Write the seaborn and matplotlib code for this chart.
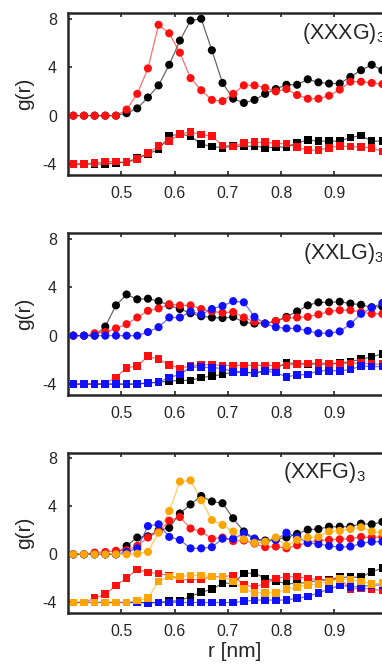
import matplotlib
matplotlib.use('Agg')
import matplotlib.pyplot as plt
import numpy as np
import seaborn as sns

# r grid (nm), one point every 0.02 nm
r = np.round(np.arange(0.41, 1.0, 0.02), 2)

# (XXXG)3
g1_black_c = [0, 0, 0, 0, 0, 0.2, 0.6, 1.5, 2.5, 4.2, 6.2, 7.85, 8.0, 5.4, 2.7,
              1.4, 1.05, 1.3, 1.8, 2.2, 2.55, 2.55, 3.0, 2.75, 2.65, 2.65, 3.2, 3.75, 4.2, 3.75]
g1_red_c = [0, 0, 0, 0, 0, 0.5, 1.8, 3.9, 7.5, 6.8, 5.2, 3.1, 2.1, 1.3, 1.2,
            1.8, 2.5, 2.5, 2.3, 2.0, 2.2, 1.7, 1.4, 1.4, 1.65, 2.15, 2.8, 2.8, 2.7, 2.6]
g1_black_s = [-4.0, -4.0, -4.0, -4.0, -3.9, -3.85, -3.5, -3.15, -2.8, -1.7, -1.5, -1.7, -2.35, -2.55, -2.65,
              -2.5, -2.55, -2.5, -2.65, -2.6, -2.6, -2.25, -2.0, -2.1, -2.1, -2.1, -1.8, -1.65, -2.1, -2.1]
g1_red_s = [-4.0, -4.0, -3.9, -3.8, -3.8, -3.85, -3.6, -3.1, -2.5, -2.1, -1.5, -1.35, -1.55, -1.7, -2.45,
            -2.55, -2.25, -2.2, -2.2, -2.3, -2.3, -2.6, -2.85, -2.85, -2.65, -2.5, -2.55, -2.6, -2.65, -2.95]

# (XXLG)3
g2_black_c = [0, 0, 0, 0.75, 2.5, 3.4, 3.0, 3.05, 2.85, 2.5, 2.2, 1.85, 1.6, 1.5, 1.45,
              1.55, 1.1, 1.0, 1.0, 1.2, 1.55, 2.0, 2.5, 2.75, 2.75, 2.8, 2.65, 2.55, 2.35, 2.4]
g2_red_c = [0, 0, 0.2, 0.3, 0.6, 0.95, 1.5, 2.05, 2.25, 2.6, 2.5, 2.5, 2.2, 2.0, 1.9,
            1.95, 1.5, 1.15, 1.0, 1.2, 1.45, 1.5, 1.55, 1.75, 2.0, 2.1, 2.1, 1.95, 1.8, 1.8]
g2_blue_c = [0, 0, 0, 0, 0, 0, 0, 0.3, 0.7, 1.5, 1.5, 2.0, 1.75, 2.2, 2.45,
             2.85, 2.75, 1.55, 1.0, 0.7, 0.6, 0.6, 0.4, 0.2, 0.2, 0.35, 0.95, 1.8, 2.3, 2.7]
g2_black_s = [-4.0, -4.0, -4.0, -4.0, -4.0, -4.0, -4.0, -3.9, -3.85, -3.75, -3.7, -3.7, -3.45, -3.35, -3.2,
              -3.0, -3.0, -3.1, -2.9, -2.7, -2.25, -2.3, -2.35, -2.35, -2.35, -2.25, -2.15, -1.95, -1.75, -1.5]
g2_red_s = [-4.0, -4.0, -4.0, -3.95, -3.45, -2.65, -2.5, -1.7, -1.95, -2.4, -2.7, -2.5, -2.4, -2.4, -2.45,
            -2.45, -2.45, -2.45, -2.45, -2.45, -2.45, -2.35, -2.3, -2.25, -2.3, -2.3, -2.3, -2.25, -2.35, -2.35]
g2_blue_s = [-4.0, -4.0, -4.0, -4.0, -4.0, -4.0, -4.0, -3.9, -3.85, -3.45, -3.2, -2.6, -2.6, -2.65, -2.7,
             -3.0, -3.0, -3.1, -2.9, -3.05, -3.4, -3.25, -3.2, -2.9, -2.9, -2.9, -2.8, -2.5, -2.55, -2.55]

# (XXFG)3
g3_black_c = [0, 0, 0, 0, 0, 0.7, 1.4, 1.5, 2.0, 2.2, 3.4, 4.15, 4.85, 4.4, 4.25,
              3.0, 1.9, 1.3, 1.15, 1.25, 1.4, 1.7, 2.05, 2.1, 2.3, 2.3, 2.3, 2.55, 2.5, 2.7]
g3_red_c = [0, 0, 0.15, 0.2, 0.3, 0.35, 0.7, 1.4, 1.9, 2.8, 3.1, 2.15, 1.9, 1.3, 1.4,
            1.1, 1.15, 0.9, 0.6, 0.65, 0.5, 0.75, 0.95, 1.15, 1.2, 1.25, 1.3, 1.45, 1.4, 1.45]
g3_blue_c = [0, 0, 0, 0, 0, 0.2, 0.5, 2.35, 2.5, 1.45, 1.2, 0.5, 0.5, 0.6, 1.3,
             1.3, 1.75, 1.3, 1.05, 1.2, 1.8, 1.45, 0.95, 0.85, 0.7, 0.6, 0.65, 0.9, 1.05, 1.05]
g3_orange_c = [0, 0, 0, 0, 0, 0, 0.05, 0.2, 1.8, 3.6, 6.05, 6.15, 4.5, 2.85, 2.45,
               1.9, 1.25, 0.95, 1.05, 1.4, 0.7, 1.2, 1.4, 1.45, 1.9, 1.95, 2.1, 2.25, 1.9, 1.8]
g3_black_s = [-4.0, -4.0, -4.0, -4.0, -4.0, -4.0, -4.0, -4.0, -4.0, -3.9, -3.85, -3.5, -3.15, -2.9, -2.4,
              -2.4, -1.6, -1.55, -2.0, -2.2, -2.45, -2.4, -2.35, -2.15, -2.1, -1.9, -1.9, -1.9, -1.45, -1.15]
g3_red_s = [-4.0, -4.0, -3.65, -3.3, -2.6, -1.95, -1.25, -1.5, -1.6, -1.75, -2.1, -2.1, -2.1, -1.85, -1.85,
            -1.75, -2.55, -2.7, -2.45, -2.0, -1.85, -1.85, -2.0, -2.1, -2.2, -2.0, -2.9, -2.8, -2.9, -3.0]
g3_blue_s = [-4.0, -4.0, -4.0, -4.0, -4.0, -4.0, -4.0, -4.05, -4.0, -4.0, -4.0, -4.0, -4.0, -4.0, -4.0,
             -4.0, -3.9, -3.8, -3.8, -3.8, -3.8, -3.65, -3.5, -3.2, -2.9, -2.55, -2.7, -2.7, -2.55, -2.55]
g3_orange_s = [-4.0, -4.0, -4.0, -4.0, -4.0, -4.0, -3.85, -3.65, -2.25, -1.85, -1.85, -1.75, -1.75, -1.85, -1.85,
               -2.25, -2.9, -3.2, -3.2, -3.2, -2.9, -2.7, -2.55, -2.45, -2.25, -2.05, -2.1, -2.25, -2.45, -2.4]

xticks = [0.5, 0.6, 0.7, 0.8, 0.9]
yticks = [-4, 0, 4, 8]

panels = [
    ('(XXXG)$_3$', 0.702, [('black', g1_black_c, g1_black_s), ('red', g1_red_c, g1_red_s)]),
    ('(XXLG)$_3$', 0.705, [('black', g2_black_c, g2_black_s), ('red', g2_red_c, g2_red_s),
                           ('blue', g2_blue_c, g2_blue_s)]),
    ('(XXFG)$_3$', 0.645, [('black', g3_black_c, g3_black_s), ('red', g3_red_c, g3_red_s),
                           ('blue', g3_blue_c, g3_blue_s), ('orange', g3_orange_c, g3_orange_s)]),
]

colors = {'black': '#000000', 'red': '#ff1010', 'blue': '#1010ff', 'orange': '#ffa500'}

sns.set_style('ticks')
plt.rcParams['font.family'] = ['Liberation Sans', 'DejaVu Sans']
plt.rcParams['axes.unicode_minus'] = False
plt.rcParams['mathtext.fontset'] = 'custom'
plt.rcParams['mathtext.rm'] = 'Liberation Sans'
plt.rcParams['mathtext.it'] = 'Liberation Sans'

fig = plt.figure(figsize=(3.82, 6.69), dpi=100)

# axes boxes in pixels: (top, bottom); the axes run past the right edge of the figure
boxes = [(13.3, 175.0), (233.3, 395.0), (452.7, 613.3)]
W, H = 382.0, 669.0
left_px, width_px = 68.0, 333.0

for (label, lx, series), (top, bot) in zip(panels, boxes):
    ax = fig.add_axes([left_px / W, 1 - bot / H, width_px / W, (bot - top) / H])
    for name, circ, sq in series:
        c = colors[name]
        sns.lineplot(x=r, y=circ, ax=ax, color=c, linewidth=0.9, alpha=0.6)
        sns.scatterplot(x=r, y=circ, ax=ax, color=c, marker='o', s=34, edgecolor='none', zorder=3)
        sns.lineplot(x=r, y=sq, ax=ax, color=c, linewidth=0.9, alpha=0.6)
        sns.scatterplot(x=r, y=sq, ax=ax, color=c, marker='s', s=30, edgecolor='none', zorder=3)

    ax.set_xlim(0.40, 1.025)
    ax.set_ylim(-4.9, 8.45)
    ax.set_xticks(xticks)
    ax.set_xticklabels([f'{t:.1f}' for t in xticks])
    ax.set_yticks(yticks)
    ax.tick_params(direction='in', length=3, width=1.2, top=True, right=True,
                   labelsize=11.5, pad=8)
    for sp in ax.spines.values():
        sp.set_linewidth(1.8)
    ax.set_ylabel('g(r)', fontsize=15, labelpad=6)
    ax.text(lx, 0.84, label, transform=ax.transAxes, fontsize=15.5,
            ha='left', va='baseline')

ax.set_xlabel('r [nm]', fontsize=15, labelpad=2)

fig.savefig('out.png', dpi=100)
